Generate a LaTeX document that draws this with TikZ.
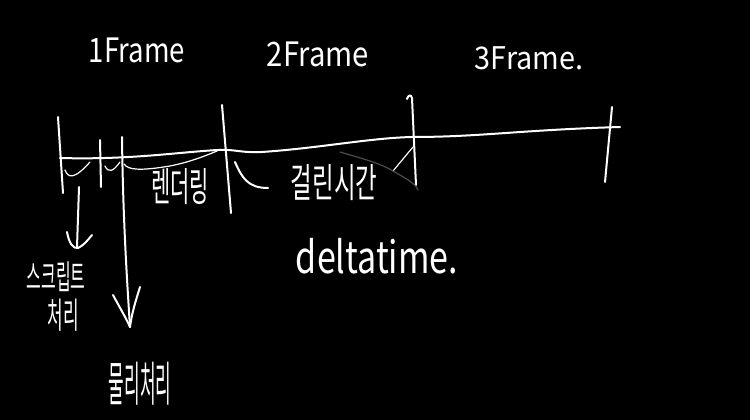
\documentclass[tikz,border=0pt]{standalone}
\usepackage{fontspec}
\setmainfont{Noto Sans CJK KR}
\begin{document}
\begin{tikzpicture}[x=1pt,y=-1pt,line cap=round,line join=round,
  ink/.style={draw=white,line width=2pt},
  thinink/.style={draw=white,line width=1.2pt},
  faint/.style={draw=black!70!white,line width=1.2pt},
  lbl/.style={text=white,inner sep=0pt}]
\fill[black] (0,0) rectangle (750,420);
\useasboundingbox (0,0) rectangle (750,420);
% timeline
\coordinate (tl0) at (60,158);
\coordinate (tl1) at (218,150);
\coordinate (tl2) at (262,152);
\coordinate (tl3) at (412,137);
\coordinate (tl4) at (620,127);
\draw[ink] (tl0) .. controls (130,160) and (180,152) .. (tl1)
  .. controls (235,149) and (240,153) .. (tl2)
  .. controls (320,148) and (370,138) .. (tl3)
  .. controls (480,137) and (520,130) .. (tl4);
% rendering span curve
\coordinate (rs0) at (124,164);
\coordinate (rs1) at (217,151);
\draw[thinink] (rs0) .. controls (128,170) and (140,171) .. (170,166) .. controls (190,162) and (205,156) .. (rs1);
% ticks
\coordinate (a0) at (58,117); \coordinate (a1) at (63,193);
\draw[ink] (a0) -- (a1);
\coordinate (b0) at (100,140); \coordinate (b1) at (101,187);
\draw[ink] (b0) -- (b1);
\coordinate (c0) at (122,137); \coordinate (c1) at (130,327);
\draw[ink] (c0) .. controls (123,220) and (127,280) .. (c1);
\draw[ink] (113,295) .. controls (120,308) and (126,318) .. (c1) .. controls (132,312) and (136,300) .. (140,287);
\coordinate (d0) at (222,105); \coordinate (d1) at (231,213);
\draw[ink] (d0) -- (d1);
\coordinate (e0) at (407,99); \coordinate (e1) at (416,185);
\draw[ink] (e0) .. controls (408,95) and (411,94) .. (412,98) -- (e1);
\coordinate (f0) at (612,107); \coordinate (f1) at (605,182);
\draw[ink] (f0) -- (f1);
% hooks
\draw[thinink] (65,170) .. controls (68,178) and (74,180) .. (90,162);
\draw[thinink] (105,166) .. controls (108,173) and (113,172) .. (120,162);
\draw[ink] (235,162) .. controls (242,178) and (248,188) .. (268,188);
\draw[thinink] (413,147) -- (393,171);
\draw[faint] (340,152) .. controls (360,158) and (380,163) .. (393,171) .. controls (405,178) and (415,183) .. (418,190);
% small arrow
\coordinate (s0) at (79,187); \coordinate (s1) at (77,247);
\draw[ink] (s0) -- (s1);
\draw[ink] (67,232) .. controls (69,243) and (73,249) .. (78,248) .. controls (83,246) and (88,240) .. (92,235);
% labels
\node[lbl,font=\fontsize{24}{24}\selectfont] (f1lbl) at (137,50) {\scalebox{1.15}[1.4]{1Frame}};
\node[lbl,font=\fontsize{24}{24}\selectfont] (f2lbl) at (318,54) {\scalebox{1.22}[1.4]{2Frame}};
\node[lbl,font=\fontsize{24}{24}\selectfont] (f3lbl) at (529,58) {\scalebox{1.2}[1.3]{3Frame.}};
\node[lbl,font=\fontsize{19}{19}\selectfont] (render) at (180,187) {\scalebox{1.1}[2.1]{렌더링}};
\node[lbl,font=\fontsize{21}{21}\selectfont] (elapsed) at (334,183) {\scalebox{1.12}[1.9]{걸린시간}};
\node[lbl,font=\fontsize{34}{34}\selectfont] (delta) at (377,256) {\scalebox{1}[1.3]{deltatime.}};
\node[lbl,font=\fontsize{16}{16}\selectfont] (script1) at (56,277) {\scalebox{1}[2.1]{스크립트}};
\node[lbl,font=\fontsize{17}{17}\selectfont] (script2) at (63,315) {\scalebox{1}[2.1]{처리}};
\node[lbl,font=\fontsize{17}{17}\selectfont] (phys) at (140,384) {\scalebox{1}[2.8]{물리처리}};
\end{tikzpicture}
\end{document}
